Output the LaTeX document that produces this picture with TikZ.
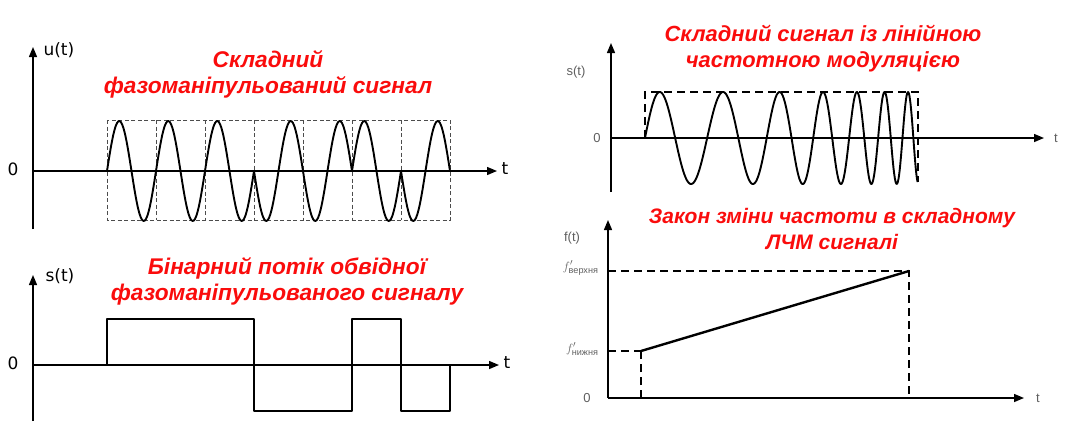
\documentclass[tikz,border=0pt]{standalone}
\usepackage{amsmath}
\usepackage{fontspec}
\setmainfont{Liberation Sans}
\newfontfamily\axisfont{DejaVu Sans}
\usepackage{tikz}
\usetikzlibrary{arrows.meta}
\definecolor{titlered}{RGB}{250,12,12}
\definecolor{fadedink}{RGB}{95,95,95}

\begin{document}
\begin{tikzpicture}[x=1pt,y=-1pt,
  axis/.style={line width=1.4pt,-{Triangle[length=10pt,width=8pt]}},
  wave/.style={line width=1.9pt,line join=round},
  guide/.style={black!70,line width=0.9pt,dash pattern=on 4pt off 2.5pt},
  longguide/.style={line width=1.3pt,dash pattern=on 8pt off 5pt},
  title/.style={text=titlered,font=\fontsize{#1}{26}\selectfont\bfseries\itshape,align=center},
  title/.default=21,
  lbl/.style={font=\axisfont\fontsize{17}{19}\selectfont},
  blur/.style={text=fadedink,font=\fontsize{13}{14}\selectfont}]
\useasboundingbox (0,0) rectangle (1078,421);

% phase-shift keyed signal
\coordinate (ubot) at (33,229); \coordinate (utop) at (33,47);
\coordinate (uorg) at (33,171); \coordinate (uend) at (497,171);
\draw[axis] (ubot) -- (utop);
\draw[axis] (uorg) -- (uend);
\node[lbl,anchor=west] (ulab) at (40,50) {u(t)};
\node[lbl] (uzero) at (13,169) {0};
\node[lbl,anchor=west] (ut) at (498,169) {t};
\draw[guide] (107,120) rectangle (450,220);
\foreach \i in {1,...,6} \draw[guide] ({107+49*\i},120) -- ({107+49*\i},220);
\foreach \s [count=\i from 0] in {1,1,1,-1,-1,1,-1}
  \draw[wave] plot[domain=0:49,samples=40,smooth] ({107+49*\i+\x},{171-50*\s*sin(\x/49*360)});
\node[title=22.7] (pskname) at (268,74) {Складний\\фазоманіпульований сигнал};

% binary envelope
\coordinate (sbot) at (33,421); \coordinate (stop) at (33,275);
\coordinate (sorg) at (33,365); \coordinate (send) at (499,365);
\draw[axis] (sbot) -- (stop);
\draw[axis] (sorg) -- (send);
\node[lbl,anchor=west] (slab) at (42,276) {s(t)};
\node[lbl] (szero) at (13,363) {0};
\node[lbl,anchor=west] (st) at (500,363) {t};
\draw[wave] (107,365) -- (107,319) -- (254,319) -- (254,411) -- (352,411) -- (352,319)
  -- (401,319) -- (401,411) -- (450,411) -- (450,365);
\node[title=22.7] (binname) at (287,281) {Бінарний потік обвідної\\фазоманіпульованого сигналу};

% chirp signal
\coordinate (cbot) at (611,192); \coordinate (ctop) at (611,43);
\coordinate (corg) at (611,138); \coordinate (cend) at (1044,138);
\draw[axis] (cbot) -- (ctop);
\draw[axis] (corg) -- (cend);
\node[blur] (clab) at (576,72) {s(t)};
\node[blur] (czero) at (597,138) {0};
\node[blur] (ct) at (1056,138) {t};
\draw[longguide] (645,138) -- (645,92) -- (918,92) -- (918,182);
\draw[wave] plot[domain=0:2.73,samples=500]
  ({645+100*\x},{138-46*sin(360*(1.747*\x-0.3643*\x*\x+0.2295*\x*\x*\x))});
\node[title=21.9] (lfmname) at (823,49) {Складний сигнал із лінійною\\частотною модуляцією};

% frequency law
\coordinate (fbot) at (608,398); \coordinate (ftop) at (608,220);
\coordinate (fend) at (1024,398);
\coordinate (fhi) at (608,271); \coordinate (flo) at (608,351);
\draw[axis] (fbot) -- (ftop);
\draw[axis] (fbot) -- (fend);
\node[blur] (flab) at (572,238) {f(t)};
\node[blur] (fzero) at (587,398) {0};
\node[blur] (ft) at (1038,398) {t};
\node[blur,anchor=east] (fuplab) at (602,268) {$f'_{\text{верхня}}$};
\node[blur,anchor=east] (flowlab) at (602,349) {$f'_{\text{нижня}}$};
\coordinate (rampa) at (641,351); \coordinate (rampb) at (909,271);
\draw[longguide] (fhi) -- (rampb) -- (909,398);
\draw[longguide] (flo) -- (rampa);
\draw[longguide,line width=2.2pt] (641,398) -- (rampa);
\draw[wave,line width=2.4pt] (rampa) -- (rampb);
\node[title] (lawname) at (832,229) {Закон зміни частоти в складному\\ЛЧМ сигналі};
\end{tikzpicture}
\end{document}
